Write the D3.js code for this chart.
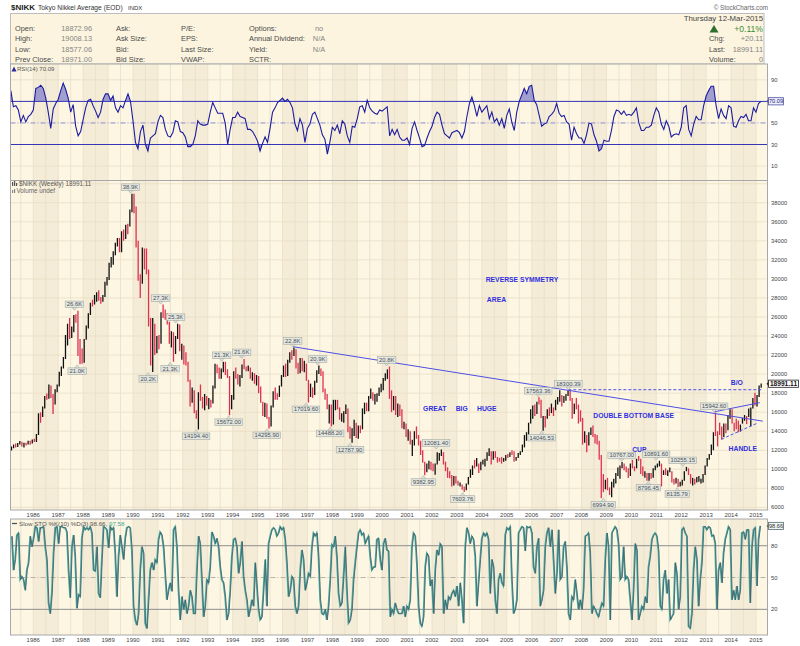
<!DOCTYPE html>
<html><head><meta charset="utf-8">
<script src="https://cdn.jsdelivr.net/npm/d3@7"></script>
<style>
body{margin:0;background:#fff;}
svg{display:block;font-family:"Liberation Sans",Arial,sans-serif;}
</style></head><body>
<svg id="c" width="800" height="646"></svg>
<script>
// ---------------- DATA ----------------
const yearLabels = d3.range(1986, 2016);
const priceTicks = d3.range(6000, 38001, 2000);
const rsiTicks = [10, 30, 50, 90];
const stoTicks = [20, 50, 80];
const priceStartYear = 1985; // monthly bars, first = Jan 1985
const closes = [
11992,12321,12580,12426,12710,12882,12461,12737,12700,12953,12740,13113,
13025,13641,15860,15825,16491,17654,17533,18717,17853,16910,18326,18701,
20048,20766,21567,23275,25170,24176,24488,26029,26011,23329,22686,21564,
23622,24950,26260,27434,27417,27769,28519,28099,27924,28175,29579,30159,
31581,31986,32839,33713,34267,32949,34954,34431,35637,35549,37269,38916,
37189,34592,29980,29585,33131,31940,31036,25978,20984,25194,22455,23849,
23293,26409,26292,26111,25790,23291,24121,22336,23916,25222,22687,22984,
22023,21339,19346,17391,18348,15952,15910,18061,17399,16767,17684,16925,
17024,16953,18591,20919,20552,19590,20380,21027,20106,19703,16408,17417,
20229,19997,19112,19725,20974,20644,20462,20629,19564,19990,19076,19723,
18650,17053,16140,16807,15437,14517,16678,18117,17913,17655,18744,19868,
20813,20125,21407,22041,21956,22531,20692,20167,21556,20467,21020,19361,
18330,18557,18003,19151,20069,20605,20331,18229,17888,16459,16636,15259,
16628,16831,16527,15641,15671,15830,16379,14108,13406,13565,14884,13842,
14499,14368,15837,16702,16112,17530,17862,17437,17605,17942,18558,18934,
19540,19960,20337,17974,16332,17411,15727,16861,15747,14539,14649,13786,
13844,12884,12999,13934,13262,12969,11861,10714,9775,10366,10697,10543,
9998,10588,11025,11493,11764,10622,9877,9619,9383,8640,9216,8579,
8340,8363,7973,7831,8425,9083,9563,10344,10219,10560,10101,10677,
10784,11042,11715,11762,11236,11858,11326,11082,10824,10771,10899,11489,
11388,11741,11669,11009,11277,11584,11900,12414,13574,13607,14872,16111,
16650,16205,17060,16906,15467,15505,15457,16141,16128,16399,16274,17226,
17383,17604,17288,17400,17876,18138,17249,16569,16786,16737,15681,15308,
13592,13603,12526,13850,14339,13481,13377,13073,11260,8577,8512,8860,
7994,7568,8110,8828,9523,9958,10357,10493,10133,10035,9346,10546,
10198,10126,11090,11057,9769,9383,9537,8824,9369,9202,9937,10229,
10238,10624,9755,9850,9694,9816,9833,8955,8700,8988,8435,8455,
8803,9723,10084,9521,8543,9007,8695,8840,8870,8928,9446,10395,
11139,11559,12398,13861,13775,13677,13668,13389,14456,14328,15662,16291,
14915,14841,14828,14304,14632,15162,15621,15425,16174,16414,17460,17451,
17674,18798,18991.11];
const highs = [
12050,12400,12600,12700,12750,12960,12900,12800,12800,13000,13000,13130,
13200,13700,15900,16000,16600,17700,17960,18900,18800,17900,18400,18900,
20250,20800,21800,24100,25300,25900,25000,26200,26300,26646,23700,22700,
23700,25100,26400,27500,27800,28300,28600,28800,28100,28300,29700,30200,
31700,32300,32900,33800,34300,34300,35000,35200,35700,35800,37300,38957,
38950,37600,34000,30500,33300,33200,33200,31000,25900,25900,25300,24000,
24100,26500,27300,26800,26400,25500,24500,24400,24000,25300,25200,23200,
23000,22300,21300,19400,18600,18300,16200,18100,18900,17600,17900,17700,
17500,17300,18800,21100,21000,20700,20600,21300,21300,20500,19800,17800,
20300,20700,20000,19900,21000,21600,20800,20900,20700,20200,20100,19900,
19800,18700,17100,17000,16900,15500,16700,18200,18600,18000,18800,19900,
20900,21100,21500,22300,22500,22800,22600,21200,21700,21700,21400,21100,
19400,19000,18600,19300,20400,20900,20600,20300,18500,17900,16800,16800,
17300,17300,17300,16500,15900,16100,16800,16400,14500,14300,15200,14900,
14600,14600,16400,17000,17000,17700,18500,18100,17900,18000,18600,19000,
19600,20100,20500,20800,18300,17700,17700,16900,16800,16300,15000,14800,
14200,14000,13100,14000,14500,13600,13000,12000,10800,10600,10900,10800,
10600,10600,11800,11700,12081,11800,10800,10200,9800,9400,9300,9300,
8800,8600,8400,8200,8500,9200,10000,10400,11000,11200,10600,10800,
11000,11100,11800,12200,11900,11900,11900,11300,11200,11300,11200,11500,
11600,11800,12000,11900,11300,11700,11900,12600,13600,13900,14900,16300,
16700,16800,17100,17563,17300,15600,15600,16300,16500,16900,16500,17300,
17600,18300,17800,17700,17900,18300,18300,17500,16900,17500,16800,16200,
15400,14000,13600,13900,14400,14600,13700,13600,13000,11500,9500,8900,
9100,8100,8700,9000,9600,10200,10400,10767,10600,10300,10100,10600,
10982,10300,11100,11408,11100,10300,9800,9600,9600,9600,10100,10400,
10600,10892,10600,9900,10100,9900,10200,9800,9000,9100,9000,8700,
8900,9800,10255,10100,9500,9100,9000,9200,9300,9000,9500,10400,
11200,11600,12600,13900,15943,14000,14900,14500,14800,14800,15700,16320,
16320,14900,15300,15100,14700,15400,15700,15600,16400,16500,17500,18030,
17800,18800,19008];
const lows = [
11540,11980,12200,12300,12350,12600,12400,12300,12500,12600,12580,12700,
12880,12880,13600,14900,15500,16400,17300,17400,17500,15820,16800,18100,
18700,19800,20600,21600,23000,23700,23800,24400,25400,21900,21036,21100,
21200,23600,24800,26200,27100,27300,27600,27700,27400,27600,28100,29300,
29900,31200,31500,32500,33400,32800,32800,34000,34200,34700,35500,37000,
36900,33300,29800,28002,29500,31000,30500,25000,20900,20222,22000,22200,
22600,23200,25900,25700,25200,23200,22800,21300,22100,23700,22400,21500,
21000,20900,19200,16600,17000,15900,15300,14194,17200,16400,16200,16700,
16300,16500,16900,18500,20100,19500,19500,20200,19900,19600,15672,16300,
17300,19500,18900,18700,19600,20500,20300,20300,19500,19300,19000,18800,
18000,17000,15600,15500,15300,14296,14500,16500,17300,17300,17600,18700,
19700,19700,19800,21200,21500,21900,20600,20000,20100,20300,20200,19300,
17020,17600,17500,17800,19100,20000,19800,18100,17300,16300,14800,14488,
14700,16200,16300,15200,15000,14900,15800,13900,13200,12788,13500,13300,
13200,13800,14200,15800,16100,16100,17400,17200,16800,17100,17700,18100,
18300,19300,19500,17400,16000,16200,15700,15500,15600,14300,14200,13400,
13000,12600,11400,12500,13200,12500,11500,10700,9383,9700,10000,9900,
9800,9420,10500,10900,11400,10500,9800,9100,9050,8200,8300,8500,
8300,8200,7860,7604,7800,8400,9100,9400,10100,10300,9600,9900,
10500,10300,10900,11400,10500,11000,11200,10700,10800,10600,10800,10900,
11200,11300,11500,10800,10900,11200,11500,11800,12300,13000,13600,14800,
15300,15600,15800,16800,15400,14046,14400,15300,15600,15900,15600,16200,
16800,17100,16600,17000,17200,17700,17200,15300,15800,16300,14800,15000,
12600,12800,11800,12500,13600,13400,12700,12600,11000,6995,7600,7900,
7800,7300,7055,8100,8500,9300,9000,10100,9900,9700,9081,9300,
10100,9800,10100,10900,9500,9300,9100,8796,8800,9000,9100,9900,
10200,10300,8200,9400,9400,9300,9700,8600,8400,8500,8136,8200,
8300,8800,9800,9400,8500,8300,8400,8600,8700,8500,8600,9400,
10300,11000,11500,12000,13500,12415,13600,13100,13400,13800,14100,15300,
14800,13995,14200,13885,13960,14800,15100,14750,15500,14530,16400,16700,
16600,17600,18577];

// RSI(14) weekly, sampled every 0.1 year from 1985.1
const rsiStart = 1985.1, rsiStep = 0.1;
const rsiValues = [
80,65,66,62,51,57,51,56,58,62, 82,83,85,82,73,60,45,63,68,72,
80,87,81,73,60,67,47,38,42,53, 64,71,72,66,61,55,60,72,77,77,
71,75,64,60,66,64,71,77,70,52, 32,26,42,48,30,24,36,38,40,51,
57,55,44,38,37,41,52,51,42,41, 37,28,28,30,38,52,49,48,48,49,
60,69,64,59,59,59,50,30,44,55, 55,60,56,55,54,44,44,42,38,33,
24,31,37,32,45,60,64,69,71,73, 70,72,69,64,49,43,54,48,32,45,
49,58,60,54,48,39,35,21,32,46, 43,48,40,52,49,38,32,47,46,54,
65,66,60,71,64,61,59,58,62,61, 63,65,38,44,39,44,37,34,34,36,
30,45,51,43,36,28,29,36,42,47, 55,60,58,48,40,38,36,41,42,43,
41,36,42,56,68,74,66,56,66,60, 63,66,54,60,51,54,48,54,45,57,
63,51,43,60,70,76,82,77,84,85, 71,67,57,47,49,50,56,58,61,68,
59,56,57,51,49,34,46,40,36,36, 31,39,50,49,39,33,24,26,34,33,
33,43,56,62,61,58,61,57,58,57, 60,64,50,43,43,46,46,48,57,64,
60,49,44,52,47,37,39,40,39,46, 64,66,44,38,49,56,53,53,66,75,
80,84,84,66,54,63,57,54,66,64, 47,46,52,56,55,58,52,52,64,60,
68,70.09];

// Slow STO %K(10), sampled every 0.0669 year from 1985.13
const stoStart = 1985.132, stoStep = 0.06688;
const stoK = [
89,57,67,90,92,48,51,48,38,57, 64,89,79,87,98,97,84,97,97,98,
79,67,26,16,35,73,97,98,82,98, 98,97,97,93,57,31,79,90,70,21,
34,32,87,98,95,97,95,98,92,57, 56,79,35,31,67,98,97,95,78,98,
95,97,73,32,70,90,79,67,87,97, 98,97,76,23,10,5,16,57,79,73,
7,2,29,57,64,57,67,64,86,93, 90,79,54,29,38,45,37,95,98,79,
38,10,32,20,29,16,23,38,32,16, 16,57,89,82,48,13,23,48,45,60,
93,89,82,87,79,60,48,45,32,10, 16,38,70,86,87,79,54,64,84,51,
38,29,13,20,29,23,64,42,20,10, 13,38,67,23,82,89,95,97,95,89,
92,98,95,97,86,64,32,38,51,48, 23,16,23,57,76,67,38,45,54,51,
79,92,89,92,70,29,16,15,20,10, 23,48,81,79,89,70,35,23,26,51,
79,38,7,10,20,48,64,79,92,95, 90,92,82,86,89,70,57,60,60,86,
87,67,57,82,87,76,75,13,20,16, 26,20,16,
16,16,23,13,23,20,29,79,92,89, 64,23,7,4,13,60,73,70,42,48,
16,57,76,71,82,79,16,29,20,32, 29,35,38,32,42,23,45,29,7,79,
97,92,82,89,86,70,23,45,67,87, 92,89,92,86,35,67,60,29,16,48,
54,45,42,90,97,95,98,48,16,20, 29,92,95,98,97,75,98,97,98,92,
60,54,79,87,23,29,38,79,92,97, 79,95,67,35,54,95,48,51,79,84,
60,16,10,32,29,48,35,20,29,20, 38,89,90,92,73,16,23,20,16,13,
20,26,23,67,92,79,10,92,95,98, 95,82,48,51,79,48,51,48,29,10,
38,82,76,10,16,23,20,32,26,60, 70,86,90,92,89,75,23,20,48,57,
35,48,10,13,16,64,54,20,32,95, 97,92,89,4,2,16,57,79,67,23,
48,64,98,98,95,98,97,89,90,82, 20,57,64,45,73,86,92,98,95,29,
38,29,42,29,38,92,93,86,95,95, 26,79,95,97,42,86,98.66];

const annotations = [
 {t:1989.90, v:38957, label:"38.9K", hi:true},
 {t:1987.65, v:26646, label:"26.6K", hi:true},
 {t:1987.76, v:21036, label:"21.0K", hi:false},
 {t:1991.11, v:27300, label:"27.3K", hi:true},
 {t:1990.61, v:20222, label:"20.2K", hi:false},
 {t:1991.71, v:25300, label:"25.3K", hi:true},
 {t:1991.49, v:21300, label:"21.3K", hi:false},
 {t:1992.53, v:14194.4, label:"14194.40", hi:false},
 {t:1993.56, v:21300, label:"21.3K", hi:true},
 {t:1993.84, v:15672, label:"15672.00", hi:false},
 {t:1994.36, v:21600, label:"21.6K", hi:true},
 {t:1995.37, v:14295.9, label:"14295.90", hi:false},
 {t:1996.41, v:22800, label:"22.8K", hi:true},
 {t:1997.41, v:20900, label:"20.9K", hi:true},
 {t:1996.94, v:17019.6, label:"17019.60", hi:false},
 {t:1997.91, v:14488.2, label:"14488.20", hi:false},
 {t:1998.71, v:12787.9, label:"12787.90", hi:false},
 {t:2000.18, v:20800, label:"20.8K", hi:true},
 {t:2002.16, v:12081.4, label:"12081.40", hi:true},
 {t:2001.65, v:9382.95, label:"9382.95", hi:false},
 {t:2003.23, v:7603.76, label:"7603.76", hi:false},
 {t:2006.26, v:17563.36, label:"17563.36", hi:true},
 {t:2006.40, v:14046.53, label:"14046.53", hi:false},
 {t:2007.47, v:18300.39, label:"18300.39", hi:true},
 {t:2008.87, v:6994.9, label:"6994.90", hi:false},
 {t:2009.61, v:10767, label:"10767.00", hi:true},
 {t:2010.68, v:8796.45, label:"8796.45", hi:false},
 {t:2010.99, v:10891.6, label:"10891.60", hi:true},
 {t:2011.84, v:8135.79, label:"8135.79", hi:false},
 {t:2012.06, v:10255.15, label:"10255.15", hi:true},
 {t:2013.32, v:15942.6, label:"15942.60", hi:true}
];
const trendLines = [
 {t0:1996.41, v0:22880, t1:2015.27, v1:15060, dash:null},
 {t0:2007.47, v0:18360, t1:2015.27, v1:18360, dash:"3,2"},
 {t0:2013.32, v0:16035, t1:2015.15, v1:17000, dash:null},
 {t0:2013.62, v0:13170, t1:2015.03, v1:14820, dash:"3,2"}
];
const notes = [
 {t:2005.61, v:29955, text:"REVERSE SYMMETRY", anchor:"middle"},
 {t:2004.20, v:27860, text:"AREA", anchor:"start"},
 {t:2002.11, v:16420, text:"GREAT", anchor:"middle"},
 {t:2003.19, v:16420, text:"BIG", anchor:"middle"},
 {t:2004.20, v:16420, text:"HUGE", anchor:"middle"},
 {t:2010.09, v:15615, text:"DOUBLE BOTTOM BASE", anchor:"middle"},
 {t:2010.32, v:12120, text:"CUP", anchor:"middle"},
 {t:2014.47, v:12196, text:"HANDLE", anchor:"middle"},
 {t:2014.23, v:19120, text:"B/O", anchor:"middle"}
];
const lastPrice = 18991.11, lastRsi = 70.09, lastK = 98.66, lastD = 97.58;

// ---------------- LAYOUT / SCALES ----------------
const svg = d3.select("#c");
const L = 10.5, R = 767.5;
const rsiTop = 64, rsiBot = 180.5, mainTop = 180.5, mainBot = 510, stoTop = 519, stoBot = 635;
const x = d3.scaleLinear().domain([1985.085, 2015.462]).range([L, R]);
const yR = d3.scaleLinear().domain([-3.4, 104.7]).range([rsiBot, rsiTop]);
const yP = d3.scaleLinear().domain([5724, 40340]).range([mainBot, mainTop]);
const yS = d3.scaleLinear().domain([-4.2, 105.2]).range([stoBot, stoTop]);

const BG = "#fdf6e3", BAND = "#f5ecd7", GRID = "#e9dec5", BORDER = "#a8a8a8";
const defs = svg.append("defs");
function clip(id, top, bot){
  defs.append("clipPath").attr("id", id).append("rect")
    .attr("x", L).attr("y", top).attr("width", R - L).attr("height", bot - top);
}
clip("cr", rsiTop, rsiBot); clip("cm", mainTop, mainBot); clip("cs", stoTop, stoBot);

function panel(top, bot, id){
  const g = svg.append("g").attr("clip-path", `url(#${id})`);
  g.append("rect").attr("x", L).attr("y", top).attr("width", R - L).attr("height", bot - top).attr("fill", BG);
  yearLabels.filter(yr => yr % 2 === 0).forEach(yr => {
    g.append("rect").attr("x", x(yr)).attr("y", top).attr("width", x(yr + 1) - x(yr)).attr("height", bot - top).attr("fill", BAND);
  });
  d3.range(1985.5, 2015.6, 0.5).forEach(t => {
    g.append("line").attr("x1", x(t)).attr("x2", x(t)).attr("y1", top).attr("y2", bot)
      .attr("stroke", GRID).attr("stroke-width", 0.8);
  });
  return g;
}
function border(top, bot){
  svg.append("rect").attr("x", L).attr("y", top).attr("width", R - L).attr("height", bot - top)
    .attr("fill", "none").attr("stroke", BORDER).attr("stroke-width", 1);
}
function hline(g, y, color, dash, w){
  g.append("line").attr("x1", L).attr("x2", R).attr("y1", y).attr("y2", y)
    .attr("stroke", color).attr("stroke-width", w || 1).attr("stroke-dasharray", dash || null);
}

// ---------------- HEADER ----------------
svg.append("text").attr("x", 11).attr("y", 10).attr("font-size", 8).attr("font-weight", "bold").attr("fill", "#222").text("$NIKK");
svg.append("text").attr("x", 38).attr("y", 10).attr("font-size", 6.7).attr("fill", "#333").text("Tokyo Nikkei Average (EOD)");
svg.append("text").attr("x", 128).attr("y", 10).attr("font-size", 6).attr("fill", "#333").text("INDX");
svg.append("text").attr("x", 768).attr("y", 9.5).attr("font-size", 6.3).attr("fill", "#666").attr("text-anchor", "end").text("\u00A9 StockCharts.com");
svg.append("rect").attr("x", 10.5).attr("y", 13.5).attr("width", 753.5).attr("height", 50.5)
  .attr("fill", "#fcf4df").attr("stroke", "#bdbdbd");
const rowsY = [30.5, 41.2, 51.8, 62.4];
const hdr = [
  {x:15, items:["Open:","High:","Low:","Prev Close:"], vals:["18872.96","19008.13","18577.06","18971.00"], vx:92, anchor:"end"},
  {x:116, items:["Ask:","Ask Size:","Bid:","Bid Size:"]},
  {x:181, items:["P/E:","EPS:","Last Size:","VWAP:"]},
  {x:249, items:["Options:","Annual Dividend:","Yield:","SCTR:"], vals:["no","N/A","N/A",""], vx:319, anchor:"middle"}
];
hdr.forEach(c => {
  c.items.forEach((s, i) => svg.append("text").attr("x", c.x).attr("y", rowsY[i]).attr("font-size", 7.4).attr("fill", "#4a4a4a").text(s));
  if (c.vals) c.vals.forEach((s, i) => svg.append("text").attr("x", c.vx).attr("y", rowsY[i]).attr("font-size", 7.4)
      .attr("fill", "#858585").attr("text-anchor", c.anchor).text(s));
});
svg.append("text").attr("x", 763).attr("y", 20.6).attr("font-size", 7.8).attr("fill", "#444").attr("text-anchor", "end").text("Thursday 12-Mar-2015");
svg.append("text").attr("x", 763).attr("y", 32).attr("font-size", 8.6).attr("fill", "#3c8c3c").attr("text-anchor", "end").text("+0.11%");
svg.append("path").attr("d", "M709.5,32.5 L714,25 L718.5,32.5 Z").attr("fill", "#2f6f2f");
[["Chg:","+20.11"],["Last:","18991.11"],["Volume:","0"]].forEach((p, i) => {
  svg.append("text").attr("x", 709).attr("y", rowsY[i+1]).attr("font-size", 7.4).attr("fill", "#4a4a4a").text(p[0]);
  svg.append("text").attr("x", 763).attr("y", rowsY[i+1]).attr("font-size", 7.4).attr("fill", "#858585").attr("text-anchor", "end").text(p[1]);
});

// ---------------- RSI PANEL ----------------
const gR = panel(rsiTop, rsiBot, "cr");
[10, 90].forEach(v => hline(gR, yR(v), GRID, null, 0.8));
const rsiData = rsiValues.map((v, i) => ({t: rsiStart + i * rsiStep, v}));
defs.append("clipPath").attr("id", "rHi").append("rect").attr("x", L).attr("y", rsiTop).attr("width", R - L).attr("height", yR(70) - rsiTop);
defs.append("clipPath").attr("id", "rLo").append("rect").attr("x", L).attr("y", yR(30)).attr("width", R - L).attr("height", rsiBot - yR(30));
gR.append("g").attr("clip-path", "url(#rHi)").append("path").datum(rsiData)
  .attr("d", d3.area().x(d => x(d.t)).y0(yR(70)).y1(d => yR(d.v)))
  .attr("fill", "#7070c6").attr("opacity", 0.65);
gR.append("g").attr("clip-path", "url(#rLo)").append("path").datum(rsiData)
  .attr("d", d3.area().x(d => x(d.t)).y0(yR(30)).y1(d => yR(d.v)))
  .attr("fill", "#7070c6").attr("opacity", 0.65);
hline(gR, yR(70), "#3535b8", null, 1);
hline(gR, yR(30), "#3535b8", null, 1);
hline(gR, yR(50), "#8c8cd0", "5,2,1,2", 1);
gR.append("path").datum(rsiData).attr("d", d3.line().x(d => x(d.t)).y(d => yR(d.v)))
  .attr("fill", "none").attr("stroke", "#1c1ca0").attr("stroke-width", 1.1);
border(rsiTop, rsiBot);
svg.append("path").attr("d", "M11.5,71.5 L14,66.5 L16.5,71.5 Z").attr("fill", "#2a2aa0");
svg.append("text").attr("x", 17).attr("y", 71.3).attr("font-size", 6).attr("fill", "#555").text("RSI(14) " + lastRsi.toFixed(2));
rsiTicks.forEach(v => svg.append("text").attr("x", 771).attr("y", yR(v) + 2).attr("font-size", 5.8).attr("fill", "#444").text(v));
function tag(yv, txt, stroke, fill, color, fs, bold, w){
  svg.append("path").attr("d", `M766.5,${yv} L769,${yv-2.5} L769,${yv+2.5} Z`).attr("fill", stroke);
  svg.append("rect").attr("x", 768.5).attr("y", yv - 3.6).attr("width", w).attr("height", 7.2)
    .attr("fill", fill).attr("stroke", stroke).attr("stroke-width", 0.8);
  svg.append("text").attr("x", 768.5 + w / 2).attr("y", yv + 2.2).attr("font-size", fs).attr("font-weight", bold ? "bold" : "normal")
    .attr("text-anchor", "middle").attr("fill", color).text(txt);
}
tag(yR(lastRsi), lastRsi.toFixed(2), "#5050a0", "#eef", "#222266", 5.6, false, 15);

// ---------------- MAIN PANEL ----------------
const gM = panel(mainTop, mainBot, "cm");
d3.range(6000, 40001, 2000).forEach(v => hline(gM, yP(v), GRID, null, 0.8));
const bars = closes.map((c, i) => ({
  t: priceStartYear + (i + 0.5) / 12,
  o: i === 0 ? c : closes[i - 1], c, h: highs[i], l: lows[i]
}));
gM.selectAll("line.bar").data(bars).join("line").attr("class", "bar")
  .attr("x1", d => x(d.t)).attr("x2", d => x(d.t))
  .attr("y1", d => yP(d.h)).attr("y2", d => yP(d.l))
  .attr("stroke", d => d.c >= d.o ? "#111" : "#e0304e").attr("stroke-width", 1.3);
trendLines.forEach(l => {
  gM.append("line").attr("x1", x(l.t0)).attr("y1", yP(l.v0)).attr("x2", x(l.t1)).attr("y2", yP(l.v1))
    .attr("stroke", "#4f4fe6").attr("stroke-width", 1).attr("stroke-dasharray", l.dash);
});
notes.forEach(n => {
  gM.append("text").attr("x", x(n.t)).attr("y", yP(n.v) + 2.4).attr("text-anchor", n.anchor)
    .attr("font-size", 6.8).attr("font-weight", "bold").attr("fill", "#2f2fe0").text(n.text);
});
annotations.forEach(a => {
  const px = x(a.t), py = yP(a.v);
  const g = gM.append("g");
  const h = 6.6;
  const by = a.hi ? py - 3.2 - h : py + 3.6;
  const rect = g.append("rect");
  const tri = g.append("path");
  const txt = g.append("text").attr("x", px).attr("y", by + h - 1.4).attr("text-anchor", "middle")
    .attr("font-size", 5.9).attr("fill", "#4a5056").text(a.label);
  const w = txt.node().getComputedTextLength() + 3;
  rect.attr("x", px - w / 2).attr("y", by).attr("width", w).attr("height", h)
    .attr("fill", "#e4e7e0").attr("stroke", "#a4aaa4").attr("stroke-width", 0.6);
  tri.attr("d", a.hi ? `M${px-2.2},${by+h} L${px+2.2},${by+h} L${px},${py-0.5} Z`
                     : `M${px-2.2},${by} L${px+2.2},${by} L${px},${py+0.5} Z`)
    .attr("fill", "#e4e7e0").attr("stroke", "#a4aaa4").attr("stroke-width", 0.6);
});
border(mainTop, mainBot);
svg.append("rect").attr("x", 12).attr("y", 182).attr("width", 1.2).attr("height", 4).attr("fill", "#555");
svg.append("rect").attr("x", 14).attr("y", 181).attr("width", 1.2).attr("height", 5).attr("fill", "#555");
svg.append("rect").attr("x", 16).attr("y", 183).attr("width", 1.2).attr("height", 3).attr("fill", "#555");
svg.append("text").attr("x", 19).attr("y", 186.2).attr("font-size", 6.3).attr("fill", "#555").text("$NIKK (Weekly) " + lastPrice.toFixed(2));
svg.append("rect").attr("x", 12).attr("y", 190).attr("width", 1.2).attr("height", 3).attr("fill", "#888");
svg.append("rect").attr("x", 14).attr("y", 189).attr("width", 1.2).attr("height", 4).attr("fill", "#888");
svg.append("text").attr("x", 16.5).attr("y", 193.2).attr("font-size", 6.3).attr("fill", "#666").text("Volume undef");
priceTicks.forEach(v => svg.append("text").attr("x", 771).attr("y", yP(v) + 2).attr("font-size", 5.8).attr("fill", "#444").text(v));
tag(yP(lastPrice), lastPrice.toFixed(2), "#222", "#fff", "#111", 6.6, true, 30);
yearLabels.forEach(yr => svg.append("text").attr("x", x(yr)).attr("y", 517.3).attr("font-size", 6).attr("fill", "#444")
  .attr("text-anchor", "middle").text(yr));

// ---------------- STOCHASTIC PANEL ----------------
const gS = panel(stoTop, stoBot, "cs");
hline(gS, yS(80), "#8e8e8e", null, 1);
hline(gS, yS(20), "#8e8e8e", null, 1);
hline(gS, yS(50), "#b5b2a2", "5,2,1,2", 1);
const stoData = stoK.map((v, i) => ({t: stoStart + i * stoStep, v}));
const sLine = d3.line().x(d => x(d.t)).y(d => yS(d.v));
gS.append("path").datum(stoData).attr("d", sLine).attr("fill", "none").attr("stroke", "#45aaa2").attr("stroke-width", 1.5);
gS.append("path").datum(stoData).attr("d", sLine).attr("fill", "none").attr("stroke", "#485a66").attr("stroke-width", 0.8)
  .attr("transform", "translate(0.6,0)");
border(stoTop, stoBot);
svg.append("line").attr("x1", 12).attr("x2", 17).attr("y1", 523.5).attr("y2", 523.5).attr("stroke", "#3e4d58").attr("stroke-width", 1.2);
const sl = svg.append("text").attr("x", 19).attr("y", 525.6).attr("font-size", 6.2).attr("fill", "#555");
sl.append("tspan").text("Slow STO %K(10) %D(3) " + lastK.toFixed(2) + ", ");
sl.append("tspan").attr("fill", "#3aa59c").text(lastD.toFixed(2));
stoTicks.forEach(v => svg.append("text").attr("x", 771).attr("y", yS(v) + 2).attr("font-size", 5.8).attr("fill", "#444").text(v));
tag(yS(lastK), lastK.toFixed(2), "#5a6a70", "#eef5f4", "#333", 5.6, false, 15);
yearLabels.forEach(yr => svg.append("text").attr("x", x(yr)).attr("y", 642.3).attr("font-size", 6).attr("fill", "#444")
  .attr("text-anchor", "middle").text(yr));
</script></body></html>
